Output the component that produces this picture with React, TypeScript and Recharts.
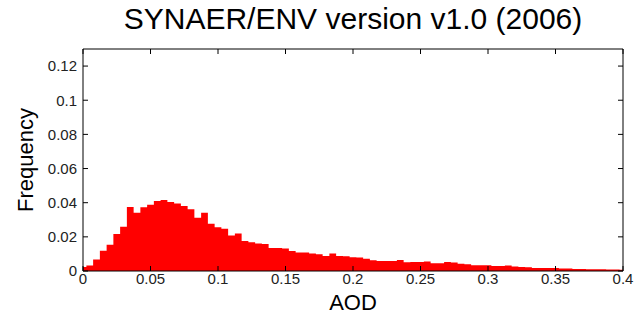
import { Area, ComposedChart, XAxis, YAxis } from "recharts";

// histogram bin centres (AOD), 0.005 wide
const aodBins = [
  0, 0.005, 0.01, 0.015, 0.02, 0.025, 0.03, 0.035, 0.04, 0.045,
  0.05, 0.055, 0.06, 0.065, 0.07, 0.075, 0.08, 0.085, 0.09, 0.095,
  0.1, 0.105, 0.11, 0.115, 0.12, 0.125, 0.13, 0.135, 0.14, 0.145,
  0.15, 0.155, 0.16, 0.165, 0.17, 0.175, 0.18, 0.185, 0.19, 0.195,
  0.2, 0.205, 0.21, 0.215, 0.22, 0.225, 0.23, 0.235, 0.24, 0.245,
  0.25, 0.255, 0.26, 0.265, 0.27, 0.275, 0.28, 0.285, 0.29, 0.295,
  0.3, 0.305, 0.31, 0.315, 0.32, 0.325, 0.33, 0.335, 0.34, 0.345,
  0.35, 0.355, 0.36, 0.365, 0.37, 0.375, 0.38, 0.385, 0.39, 0.395,
  0.4,
];

const frequency = [
  0.0024, 0.0032, 0.0068, 0.0118, 0.0154, 0.0216, 0.0259, 0.0375, 0.0341, 0.0374,
  0.0388, 0.041, 0.0416, 0.0404, 0.0396, 0.038, 0.0362, 0.0312, 0.0341, 0.0277,
  0.0256, 0.0248, 0.0208, 0.022, 0.0176, 0.0168, 0.0161, 0.0158, 0.0134, 0.0134,
  0.0132, 0.0117, 0.0108, 0.0108, 0.0102, 0.0098, 0.0088, 0.0102, 0.0088, 0.0086,
  0.0081, 0.0079, 0.0072, 0.0063, 0.0059, 0.0059, 0.0058, 0.0065, 0.0051, 0.0053,
  0.0053, 0.0055, 0.0045, 0.0045, 0.0052, 0.005, 0.0043, 0.004, 0.0034, 0.0034,
  0.0034, 0.003, 0.003, 0.0032, 0.0027, 0.0024, 0.0022, 0.0018, 0.0018, 0.0018,
  0.0017, 0.0015, 0.0014, 0.0012, 0.0011, 0.001, 0.001, 0.001, 0.0009, 0.0009,
  0.0008,
];

const xTicks = [0, 0.05, 0.1, 0.15, 0.2, 0.25, 0.3, 0.35, 0.4];
const yTicks = [0, 0.02, 0.04, 0.06, 0.08, 0.1, 0.12];

const data = aodBins.map((aod, i) => ({ aod, freq: frequency[i] }));

const FONT = "'Liberation Sans', Arial, sans-serif";
const tickStyle = { fontFamily: FONT, fontSize: 15, fill: "#222" };
const blank = () => "";

export default function App() {
  return (
    <div style={{ position: "absolute", left: 0, top: 0, width: 635, height: 324, background: "#fff" }}>
      <div
        style={{
          position: "absolute",
          left: 83,
          top: 2,
          width: 540,
          textAlign: "center",
          fontFamily: FONT,
          fontSize: 30,
          lineHeight: "34px",
          color: "#000",
        }}
      >
        SYNAER/ENV version v1.0 (2006)
      </div>
      <ComposedChart width={635} height={324} data={data} margin={{ top: 48, right: 11, bottom: 0, left: 0 }}>
        <XAxis
          xAxisId="b"
          dataKey="aod"
          type="number"
          domain={[0, 0.4]}
          ticks={xTicks}
          interval={0}
          allowDataOverflow
          height={53}
          tickSize={-5}
          tickMargin={7}
          tick={tickStyle}
          stroke="#000"
          label={{
            content: () => (
              <text x={353} y={310} textAnchor="middle" fontFamily={FONT} fontSize={22} fill="#000">
                AOD
              </text>
            ),
          }}
        />
        {/* top and right axes close the box, ticks only */}
        <XAxis
          xAxisId="t"
          dataKey="aod"
          orientation="top"
          type="number"
          domain={[0, 0.4]}
          ticks={xTicks}
          interval={0}
          allowDataOverflow
          height={1}
          tickSize={-5}
          tickFormatter={blank}
          stroke="#000"
        />
        <YAxis
          yAxisId="l"
          type="number"
          domain={[0, 0.13]}
          ticks={yTicks}
          interval={0}
          allowDataOverflow
          width={83}
          tickSize={-5}
          tickMargin={11}
          tick={tickStyle}
          stroke="#000"
          label={{
            content: () => (
              <text
                x={33}
                y={160}
                textAnchor="middle"
                transform="rotate(-90 33 160)"
                fontFamily={FONT}
                fontSize={22}
                fill="#000"
              >
                Frequency
              </text>
            ),
          }}
        />
        <YAxis
          yAxisId="r"
          orientation="right"
          type="number"
          domain={[0, 0.13]}
          ticks={yTicks}
          interval={0}
          allowDataOverflow
          width={1}
          tickSize={-5}
          tickFormatter={blank}
          stroke="#000"
        />
        <Area
          xAxisId="t"
          yAxisId="r"
          type="step"
          dataKey="freq"
          stroke="none"
          fill="none"
          isAnimationActive={false}
        />
        <Area
          xAxisId="b"
          yAxisId="l"
          type="step"
          dataKey="freq"
          stroke="none"
          fill="#ff0000"
          fillOpacity={1}
          isAnimationActive={false}
        />
      </ComposedChart>
    </div>
  );
}
